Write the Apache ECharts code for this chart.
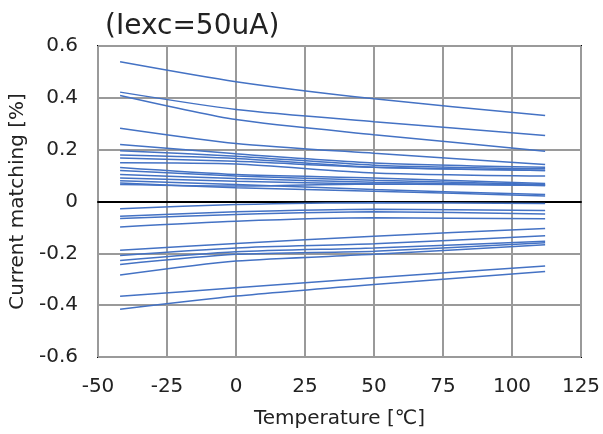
<!DOCTYPE html>
<html>
<head>
<meta charset="utf-8">
<script src="https://cdn.jsdelivr.net/npm/echarts@6/dist/echarts.min.js"></script>
<style>html,body{margin:0;padding:0;background:#fff}#c{width:603px;height:434px}</style>
</head>
<body>
<div id="c"></div>
<script>
// Temperatures (deg C) at which each curve is sampled
const temps = [-42, 0, 50, 112];

// Current matching [%] per device (values at temps above)
const curve01 = [0.539, 0.462, 0.396, 0.332];
const curve02 = [0.422, 0.355, 0.308, 0.255];
const curve03 = [0.409, 0.316, 0.258, 0.194];
const curve04 = [0.283, 0.224, 0.186, 0.143];
const curve05 = [0.220, 0.184, 0.149, 0.132];
const curve06 = [0.196, 0.175, 0.140, 0.126];
const curve07 = [0.179, 0.166, 0.132, 0.120];
const curve08 = [0.168, 0.155, 0.132, 0.120];
const curve09 = [0.150, 0.145, 0.110, 0.098];
const curve10 = [0.131, 0.104, 0.091, 0.069];
const curve11 = [0.120, 0.098, 0.082, 0.066];
const curve12 = [0.104, 0.089, 0.074, 0.062];
const curve13 = [0.091, 0.078, 0.068, 0.065];
const curve14 = [0.080, 0.066, 0.046, 0.027];
const curve15 = [0.071, 0.053, 0.040, 0.021];
const curve16 = [0.066, 0.060, 0.068, 0.062];
const curve17 = [-0.028, -0.012, -0.005, -0.008];
const curve18 = [-0.057, -0.040, -0.030, -0.035];
const curve19 = [-0.066, -0.050, -0.040, -0.048];
const curve20 = [-0.098, -0.076, -0.063, -0.067];
const curve21 = [-0.188, -0.162, -0.134, -0.104];
const curve22 = [-0.208, -0.179, -0.163, -0.132];
const curve23 = [-0.228, -0.194, -0.179, -0.153];
const curve24 = [-0.243, -0.204, -0.192, -0.159];
const curve25 = [-0.284, -0.230, -0.204, -0.167];
const curve26 = [-0.366, -0.333, -0.294, -0.249];
const curve27 = [-0.416, -0.365, -0.320, -0.270];

const curves = [curve01, curve02, curve03, curve04, curve05, curve06, curve07, curve08, curve09,
  curve10, curve11, curve12, curve13, curve14, curve15, curve16, curve17, curve18, curve19,
  curve20, curve21, curve22, curve23, curve24, curve25, curve26, curve27];

const titleText = '(Iexc=50uA)';
const xName = 'Temperature [℃]';
const yName = 'Current matching [%]';

const FONT = 'DejaVu Sans';
const chart = echarts.init(document.getElementById('c'), null, {renderer: 'canvas'});

const series = curves.map(function (c) {
  return {
    type: 'line',
    data: temps.map(function (t, i) { return [t, c[i]]; }),
    symbol: 'none',
    smooth: 0.25,
    lineStyle: {color: '#4472C4', width: 1.5},
    silent: true,
    z: 3
  };
});

chart.setOption({
  animation: false,
  backgroundColor: '#fff',
  title: {
    text: titleText,
    left: 100,
    top: 8,
    textStyle: {fontFamily: FONT, fontSize: 28, fontWeight: 'normal', color: '#222'}
  },
  grid: {
    left: 98, top: 46, right: 22, bottom: 77,
    outerBoundsMode: 'none', containLabel: false,
    show: true, borderColor: '#000', borderWidth: 2, backgroundColor: 'transparent'
  },
  xAxis: {
    type: 'value', min: -50, max: 125, interval: 25,
    name: xName, nameLocation: 'middle', nameGap: 52,
    nameTextStyle: {fontFamily: FONT, fontSize: 20, color: '#222'},
    axisLine: {show: true, onZero: true, lineStyle: {color: '#000', width: 2}},
    axisTick: {show: false},
    axisLabel: {fontFamily: FONT, fontSize: 20, color: '#222', margin: 20},
    splitLine: {show: true, lineStyle: {color: '#9a9a9a', width: 2}}
  },
  yAxis: {
    type: 'value', min: -0.6, max: 0.6, interval: 0.2,
    name: yName, nameLocation: 'middle', nameGap: 67,
    nameTextStyle: {fontFamily: FONT, fontSize: 20, color: '#222'},
    axisLine: {show: false},
    axisTick: {show: false},
    axisLabel: {fontFamily: FONT, fontSize: 20, color: '#222', margin: 20,
      formatter: function (v) { return v === 0 ? '0' : v.toFixed(1); }},
    splitLine: {show: true, lineStyle: {color: '#9a9a9a', width: 2}}
  },
  series: series
});
</script>
</body>
</html>
